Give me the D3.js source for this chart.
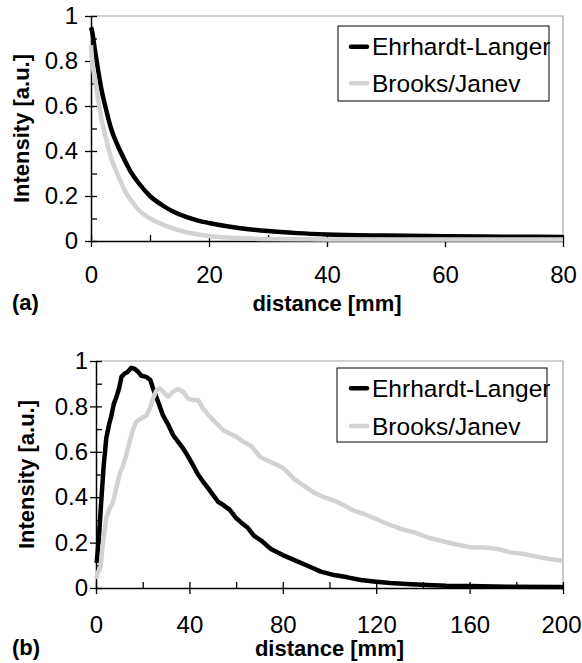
<!DOCTYPE html>
<html>
<head>
<meta charset="utf-8">
<script src="https://cdn.jsdelivr.net/npm/d3@7"></script>
<style>
  body { margin: 0; background: #fff; }
  svg { display: block; font-family: "Liberation Sans", Arial, sans-serif; }
</style>
</head>
<body>
<div id="chart"></div>
<script>
// series names
var seriesNames = ["Ehrhardt-Langer", "Brooks/Janev"];

// (a) distance [mm] and intensity
var distA = [0, 0.2, 0.6, 1.2, 1.8, 2.6, 3.4, 4.6, 5.7, 6.8, 8, 10, 12, 14, 16, 18, 20, 25, 30, 35, 40, 50, 60, 70, 80];
var ehrA = [0.95, 0.93, 0.86, 0.76, 0.67, 0.58, 0.5, 0.42, 0.36, 0.305, 0.26, 0.2, 0.16, 0.13, 0.108, 0.092, 0.08, 0.058, 0.044, 0.035, 0.029, 0.024, 0.021, 0.019, 0.018];
var brkA = [0.87, 0.8, 0.73, 0.63, 0.54, 0.45, 0.37, 0.29, 0.225, 0.18, 0.14, 0.1, 0.075, 0.055, 0.04, 0.03, 0.022, 0.013, 0.009, 0.008, 0.007, 0.007, 0.007, 0.007, 0.007];

// (b)
var distEhrB = [0.3, 1.3, 2.3, 3.3, 4.4, 5.6, 6.6, 7.6, 8.7, 9.9, 10.9, 12.3, 13.7, 15.1, 16.6, 18, 19.4, 21.6, 23.3, 24.4, 26.6, 28.7, 30.9, 33, 35.1, 37.3, 39.4, 41.6, 43.7, 45.9, 48, 50.1, 52.3, 54.4, 57.3, 60.1, 62, 65, 67.7, 70.6, 74.9, 80, 85, 90.6, 96.3, 102, 107.7, 113.4, 120, 126, 133, 142, 150, 160, 176, 200];
var ehrB = [0.11, 0.23, 0.39, 0.54, 0.66, 0.72, 0.76, 0.81, 0.84, 0.88, 0.93, 0.945, 0.953, 0.97, 0.965, 0.953, 0.935, 0.93, 0.916, 0.88, 0.82, 0.76, 0.72, 0.674, 0.645, 0.615, 0.58, 0.54, 0.5, 0.468, 0.44, 0.41, 0.38, 0.366, 0.344, 0.307, 0.29, 0.265, 0.23, 0.21, 0.172, 0.145, 0.123, 0.098, 0.072, 0.057, 0.047, 0.035, 0.028, 0.022, 0.018, 0.013, 0.01, 0.009, 0.006, 0.004];
var distBrkB = [0.1, 0.9, 1.9, 3, 4.4, 5.9, 7.3, 8.7, 10.1, 11.6, 13, 14.4, 15.9, 17.3, 19.4, 21.6, 23, 24.4, 25.9, 27.3, 28.7, 30.9, 33, 35.1, 37.3, 39.4, 41.6, 43.7, 45.9, 48.7, 51.6, 54.4, 57.3, 60.1, 63, 66.3, 70.6, 74.9, 80, 84.9, 89.1, 93.4, 97.7, 102, 106.3, 110.6, 114.9, 120, 124.9, 130.6, 136.3, 142, 147.7, 153.4, 160, 166.3, 172, 177.7, 183.4, 189.1, 194.9, 200];
var brkB = [0.04, 0.07, 0.09, 0.2, 0.31, 0.35, 0.38, 0.44, 0.5, 0.54, 0.586, 0.645, 0.7, 0.733, 0.747, 0.76, 0.79, 0.835, 0.87, 0.88, 0.865, 0.843, 0.865, 0.877, 0.865, 0.835, 0.828, 0.828, 0.79, 0.755, 0.725, 0.696, 0.68, 0.667, 0.645, 0.627, 0.575, 0.555, 0.53, 0.48, 0.45, 0.42, 0.4, 0.385, 0.363, 0.34, 0.326, 0.304, 0.282, 0.26, 0.245, 0.223, 0.208, 0.194, 0.18, 0.178, 0.172, 0.157, 0.15, 0.137, 0.127, 0.12];

// tick labels
var yTicks = [0, 0.2, 0.4, 0.6, 0.8, 1];
var yMinor = [0.1, 0.3, 0.5, 0.7, 0.9];
var xTicksA = [0, 20, 40, 60, 80];
var xMinorA = [10, 30, 50, 70];
var xTicksB = [0, 40, 80, 120, 160, 200];
var xMinorB = [20, 60, 100, 140, 180];

var svg = d3.select("#chart").append("svg").attr("width", 582).attr("height", 663);

function zip(xs, ys) {
  return xs.map(function (d, i) { return [d, ys[i]]; });
}

function drawPanel(p) {
  var x = d3.scaleLinear().domain(p.xDomain).range([p.left, p.right]);
  var y = d3.scaleLinear().domain([0, 1]).range([p.bottom, p.top]);
  var g = svg.append("g");

  // gray frame on top and right
  g.append("path")
    .attr("d", "M" + x(p.xDomain[0]) + "," + y(1) + "H" + x(p.xDomain[1]) + "V" + y(0))
    .attr("fill", "none").attr("stroke", "#a3a3a3").attr("stroke-width", 1.2);

  // inner ticks (all values)
  g.append("g").attr("transform", "translate(" + p.left + ",0)")
    .call(d3.axisLeft(y).tickValues(yTicks.concat(yMinor)).tickSize(-6).tickFormat(""))
    .call(function (a) { a.select(".domain").remove(); });
  g.append("g").attr("transform", "translate(0," + p.bottom + ")")
    .call(d3.axisBottom(x).tickValues(p.xTicks.concat(p.xMinor)).tickSize(-6).tickFormat(""))
    .call(function (a) { a.select(".domain").remove(); });

  // main axes
  var ya = g.append("g").attr("transform", "translate(" + p.left + ",0)")
    .call(d3.axisLeft(y).tickValues(yTicks).tickSize(6).tickSizeOuter(0).tickPadding(p.yPad)
      .tickFormat(function (d) { return String(+d.toFixed(1)); }));
  var xa = g.append("g").attr("transform", "translate(0," + p.bottom + ")")
    .call(d3.axisBottom(x).tickValues(p.xTicks).tickSize(6).tickSizeOuter(0).tickPadding(p.xPad));
  [ya, xa].forEach(function (a) {
    a.selectAll("text").attr("font-size", 24).attr("fill", "#000")
      .attr("font-family", "'Liberation Sans', Arial, sans-serif");
    a.select(".domain").attr("stroke-width", 1.5);
  });
  // keep the last x label inside the page
  xa.selectAll(".tick text").filter(function (d) { return d === p.xDomain[1]; })
    .attr("dx", p.lastDx);
  g.selectAll(".tick line").attr("stroke", "#000").attr("stroke-width", 1.3);

  // curves: black first, gray on top
  var line = d3.line().curve(p.curve)
    .x(function (d) { return x(d[0]); }).y(function (d) { return y(d[1]); });
  g.append("path").datum(p.ehr).attr("d", line)
    .attr("fill", "none").attr("stroke", "#000").attr("stroke-width", 4.5).attr("stroke-linejoin", "round");
  g.append("path").datum(p.brk).attr("d", line)
    .attr("fill", "none").attr("stroke", "#d2d2d2").attr("stroke-width", 4.5).attr("stroke-linejoin", "round");

  // titles
  g.append("text").attr("x", (p.left + p.right) / 2).attr("y", p.xTitleY)
    .attr("text-anchor", "middle").attr("font-size", 22).attr("font-weight", "bold")
    .text("distance [mm]");
  g.append("text")
    .attr("transform", "translate(" + p.yTitleX + "," + (p.top + p.bottom) / 2 + ") rotate(-90)")
    .attr("text-anchor", "middle").attr("font-size", 22).attr("font-weight", "bold")
    .text("Intensity [a.u.]");
  g.append("text").attr("x", 12).attr("y", p.tagY)
    .attr("font-size", 22).attr("font-weight", "bold").text(p.tag);

  // legend
  var lg = g.append("g");
  lg.append("rect").attr("x", p.leg[0]).attr("y", p.leg[1]).attr("width", p.leg[2]).attr("height", p.leg[3])
    .attr("fill", "#fff").attr("stroke", "#000").attr("stroke-width", 1);
  [["#000", 0], ["#d2d2d2", 1]].forEach(function (s) {
    var ry = p.legRows[s[1]];
    lg.append("line").attr("x1", 351).attr("x2", 367).attr("y1", ry).attr("y2", ry)
      .attr("stroke", s[0]).attr("stroke-width", 4.5).attr("stroke-linecap", "round");
    lg.append("text").attr("x", 372).attr("y", ry + 8.5).attr("font-size", 24.5)
      .text(seriesNames[s[1]]);
  });
}

drawPanel({
  left: 91, right: 563, top: 16, bottom: 241,
  xDomain: [0, 80], xTicks: xTicksA, xMinor: xMinorA, lastDx: 0,
  yPad: 7, xPad: 19,
  ehr: zip(distA, ehrA), brk: zip(distA, brkA), curve: d3.curveMonotoneX,
  xTitleY: 311, yTitleX: 29, tag: "(a)", tagY: 310,
  leg: [338, 26, 211, 75], legRows: [46.7, 83.3]
});

drawPanel({
  left: 96, right: 563, top: 361, bottom: 588,
  xDomain: [0, 200], xTicks: xTicksB, xMinor: xMinorB, lastDx: -2,
  yPad: 2, xPad: 22,
  ehr: zip(distEhrB, ehrB), brk: zip(distBrkB, brkB), curve: d3.curveLinear,
  xTitleY: 656, yTitleX: 34, tag: "(b)", tagY: 655,
  leg: [337, 368, 210, 74], legRows: [388.3, 426]
});
</script>
</body>
</html>
